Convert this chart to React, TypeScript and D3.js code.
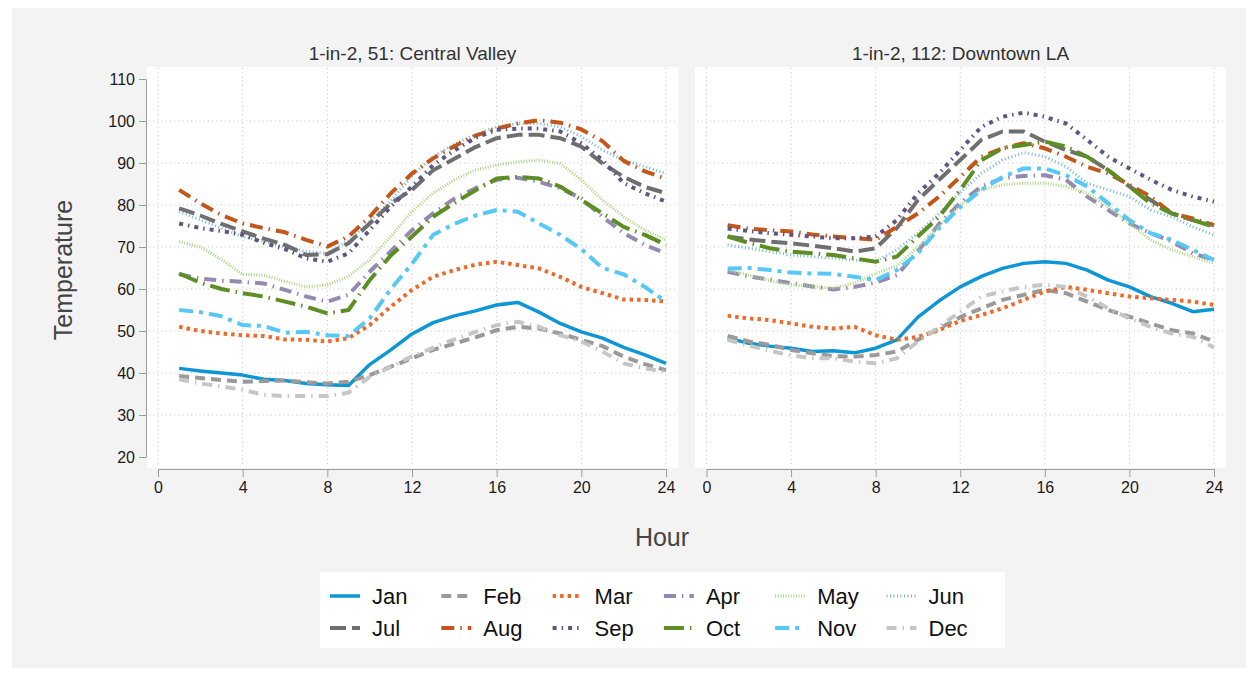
import React, { useEffect, useRef } from 'react'
import * as d3 from 'd3'

const HOURS = [1, 2, 3, 4, 5, 6, 7, 8, 9, 10, 11, 12, 13, 14, 15, 16, 17, 18, 19, 20, 21, 22, 23, 24]
const MONTHS = ['Jan', 'Feb', 'Mar', 'Apr', 'May', 'Jun', 'Jul', 'Aug', 'Sep', 'Oct', 'Nov', 'Dec']
const X_TICKS = [0, 4, 8, 12, 16, 20, 24]
const Y_TICKS = [20, 30, 40, 50, 60, 70, 80, 90, 100, 110]
const PANEL_TITLES = ['1-in-2, 51: Central Valley', '1-in-2, 112: Downtown LA']

// Central Valley, hourly temperature by month
const CV_JAN = [41.1, 40.5, 40.0, 39.5, 38.5, 38.2, 37.5, 37.2, 37.0, 42.0, 45.5, 49.3, 52.0, 53.6, 54.8, 56.2, 56.8, 54.5, 51.8, 49.8, 48.3, 46.1, 44.3, 42.3]
const CV_FEB = [39.3, 38.8, 38.3, 37.9, 38.1, 38.2, 37.8, 37.5, 37.9, 39.5, 41.5, 43.5, 45.5, 47.0, 48.5, 50.2, 51.0, 50.6, 49.4, 47.9, 46.4, 43.9, 42.1, 40.7]
const CV_MAR = [51.0, 50.0, 49.4, 49.0, 48.8, 48.0, 47.9, 47.5, 48.3, 51.4, 55.8, 59.8, 62.9, 64.5, 65.8, 66.5, 65.7, 64.9, 62.9, 60.5, 59.0, 57.5, 57.4, 57.0]
const CV_APR = [63.5, 62.5, 62.0, 61.7, 61.3, 59.8, 58.2, 57.0, 58.6, 64.1, 69.0, 74.0, 78.0, 81.5, 84.0, 86.0, 86.5, 85.5, 84.0, 81.6, 77.2, 73.3, 70.5, 68.5]
const CV_MAY = [71.3, 70.0, 67.0, 63.5, 63.3, 61.8, 60.5, 61.0, 63.0, 67.0, 72.5, 78.5, 82.8, 86.0, 88.3, 89.5, 90.3, 90.7, 89.9, 86.0, 81.2, 77.2, 74.0, 71.7]
const CV_JUN = [78.4, 76.5, 74.5, 72.5, 71.3, 70.0, 68.9, 68.5, 71.5, 76.0, 81.0, 87.0, 91.5, 94.5, 96.8, 98.6, 99.4, 99.4, 98.6, 96.3, 93.1, 90.7, 89.1, 87.5]
const CV_JUL = [79.2, 77.5, 75.5, 73.7, 72.0, 70.5, 68.1, 68.3, 70.9, 75.6, 80.4, 83.6, 88.3, 91.0, 93.8, 95.9, 96.7, 96.7, 95.9, 93.9, 89.9, 86.7, 84.3, 82.8]
const CV_AUG = [83.6, 80.4, 77.6, 75.6, 74.5, 73.5, 71.7, 70.1, 72.5, 77.2, 82.8, 87.5, 91.1, 94.0, 96.5, 98.2, 99.4, 100.2, 99.6, 98.0, 95.2, 90.5, 88.0, 86.3]
const CV_SEP = [75.6, 74.5, 73.8, 72.9, 71.0, 69.5, 67.3, 66.5, 68.5, 74.0, 79.6, 84.4, 89.5, 93.0, 96.0, 97.9, 98.2, 98.2, 97.5, 94.7, 90.7, 85.2, 82.8, 80.8]
const CV_OCT = [63.7, 61.5, 60.0, 59.0, 58.2, 57.0, 55.8, 54.2, 55.0, 62.1, 68.0, 72.5, 77.2, 80.5, 83.5, 86.3, 86.7, 86.3, 84.4, 81.2, 78.0, 74.8, 72.9, 70.5]
const CV_NOV = [55.0, 54.5, 53.5, 51.4, 51.2, 49.6, 49.8, 49.0, 48.8, 53.0, 60.0, 66.0, 72.9, 75.5, 77.5, 78.8, 78.4, 75.6, 72.9, 69.5, 65.0, 63.5, 60.5, 57.0]
const CV_DEC = [38.5, 37.5, 36.8, 36.0, 34.8, 34.5, 34.5, 34.5, 35.3, 39.1, 41.5, 44.0, 46.0, 48.0, 49.8, 51.4, 52.2, 51.0, 49.0, 47.5, 45.1, 42.3, 41.1, 40.3]

// Downtown LA, hourly temperature by month
const LA_JAN = [48.3, 47.1, 46.4, 45.9, 45.1, 45.3, 44.8, 45.9, 47.9, 53.3, 57.2, 60.5, 63.0, 64.9, 66.1, 66.5, 66.1, 64.5, 62.1, 60.5, 58.2, 56.6, 54.6, 55.2]
const LA_FEB = [48.8, 47.5, 46.7, 45.5, 44.7, 44.0, 43.9, 44.3, 45.1, 47.9, 50.6, 53.3, 55.4, 57.4, 58.6, 59.8, 59.0, 57.0, 55.0, 53.4, 51.8, 50.2, 49.4, 47.5]
const LA_MAR = [53.6, 53.0, 52.6, 51.8, 51.0, 50.6, 51.0, 49.0, 47.9, 48.6, 50.2, 52.4, 53.8, 55.4, 57.4, 59.4, 60.5, 59.8, 59.0, 58.2, 57.8, 57.4, 57.0, 56.2]
const LA_APR = [64.1, 63.0, 62.2, 61.4, 60.6, 59.9, 60.5, 61.5, 63.3, 69.0, 75.5, 80.5, 84.4, 86.4, 86.9, 87.1, 86.0, 82.0, 78.8, 75.6, 73.3, 71.3, 68.5, 66.9]
const LA_MAY = [64.5, 63.3, 62.0, 61.0, 60.6, 60.2, 61.4, 63.7, 65.5, 70.0, 75.0, 80.0, 83.6, 84.8, 85.2, 85.2, 84.4, 82.8, 79.6, 75.6, 71.7, 69.3, 67.7, 66.1]
const LA_JUN = [70.5, 69.7, 68.9, 68.1, 67.7, 67.3, 66.9, 66.5, 69.3, 73.3, 78.0, 83.0, 87.5, 90.7, 92.5, 91.5, 89.1, 85.2, 83.6, 82.0, 78.8, 77.2, 74.8, 72.9]
const LA_JUL = [72.5, 71.8, 71.3, 70.9, 70.3, 69.7, 68.9, 69.7, 74.5, 81.2, 86.0, 90.7, 95.5, 97.5, 97.5, 95.1, 93.1, 91.5, 88.3, 84.4, 81.2, 78.0, 76.4, 75.2]
const LA_AUG = [75.2, 74.4, 74.0, 73.7, 73.0, 72.5, 72.1, 71.7, 74.8, 78.0, 82.0, 86.7, 91.5, 93.5, 94.7, 93.5, 91.5, 89.1, 87.5, 84.8, 82.0, 78.0, 76.8, 75.2]
const LA_SEP = [74.4, 73.8, 73.3, 72.9, 72.5, 72.1, 72.1, 72.5, 76.4, 82.8, 87.5, 93.1, 98.6, 101.0, 102.0, 101.0, 99.4, 95.5, 91.5, 88.7, 86.0, 83.6, 82.0, 80.8]
const LA_OCT = [72.5, 71.0, 69.7, 68.9, 68.5, 68.1, 67.3, 66.5, 67.7, 72.5, 77.2, 83.6, 90.7, 93.5, 94.3, 95.1, 93.9, 91.5, 88.3, 84.4, 80.4, 78.0, 76.4, 74.8]
const LA_NOV = [64.9, 65.0, 64.5, 63.9, 63.7, 63.6, 62.9, 62.1, 64.5, 68.5, 74.5, 79.5, 83.6, 86.7, 88.7, 88.7, 87.1, 84.4, 80.4, 76.4, 73.3, 71.7, 69.3, 66.9]
const LA_DEC = [47.9, 46.5, 45.3, 44.2, 43.5, 43.5, 42.7, 42.3, 43.5, 47.5, 51.0, 54.6, 58.2, 59.4, 60.5, 61.0, 60.5, 58.2, 55.4, 53.0, 51.0, 49.4, 48.6, 46.1]

const CV_SERIES = [CV_JAN, CV_FEB, CV_MAR, CV_APR, CV_MAY, CV_JUN, CV_JUL, CV_AUG, CV_SEP, CV_OCT, CV_NOV, CV_DEC]
const LA_SERIES = [LA_JAN, LA_FEB, LA_MAR, LA_APR, LA_MAY, LA_JUN, LA_JUL, LA_AUG, LA_SEP, LA_OCT, LA_NOV, LA_DEC]

const STYLES = [
  { color: '#0c96d6', width: 3.5, dash: null },
  { color: '#9a9a9a', width: 4, dash: '10,6' },
  { color: '#ef6a2a', width: 4, dash: '3.5,4' },
  { color: '#9589b1', width: 4, dash: '12,6,1.5,6' },
  { color: '#a9d67e', width: 3, dash: '1,1.6' },
  { color: '#73b5d6', width: 3, dash: '1,2.5' },
  { color: '#6f6f6f', width: 4, dash: '16,6' },
  { color: '#c4561a', width: 4, dash: '13,6,1.5,6' },
  { color: '#5e5583', width: 4, dash: '4,5,1.5,5' },
  { color: '#5c8e24', width: 4, dash: '20,6,1.5,6' },
  { color: '#55c8f6', width: 4, dash: '14,6,4,6' },
  { color: '#c6c6c6', width: 4, dash: '10,6,1.5,6' },
]

const FONT = '"Liberation Sans", Arial, sans-serif'

export default function App() {
  const svgRef = useRef<SVGSVGElement>(null)

  useEffect(() => {
    if (!svgRef.current) return
    const svg = d3.select(svgRef.current)
    svg.selectAll('*').remove()

    const width = 1254
    const height = 673

    svg.append('rect').attr('width', width).attr('height', height).attr('fill', '#ffffff')
    svg.append('rect').attr('x', 12).attr('y', 8).attr('width', 1234).attr('height', 660).attr('fill', '#f3f3f3')

    const yScale = d3.scaleLinear().domain([20, 110]).range([457, 79])

    const panels = [
      { data: CV_SERIES, left: 147, right: 678, x0: 158, x1: 666, title: PANEL_TITLES[0], yAxis: true },
      { data: LA_SERIES, left: 695, right: 1226, x0: 706.5, x1: 1214, title: PANEL_TITLES[1], yAxis: false },
    ]

    panels.forEach((p) => {
      const xScale = d3.scaleLinear().domain([0, 24]).range([p.x0, p.x1])

      svg.append('rect')
        .attr('x', p.left)
        .attr('y', 67)
        .attr('width', p.right - p.left)
        .attr('height', 401)
        .attr('fill', '#ffffff')

      svg.append('text')
        .attr('x', (p.left + p.right) / 2)
        .attr('y', 60)
        .attr('text-anchor', 'middle')
        .attr('font-family', FONT)
        .attr('font-size', '19px')
        .attr('fill', '#333')
        .text(p.title)

      const grid = svg.append('g')
      grid.selectAll('.vgrid')
        .data(X_TICKS)
        .join('line')
        .attr('x1', (d) => xScale(d))
        .attr('x2', (d) => xScale(d))
        .attr('y1', 68)
        .attr('y2', 467)
        .attr('stroke', '#c8c8c8')
        .attr('stroke-dasharray', '1.2,3')
      grid.selectAll('.hgrid')
        .data(Y_TICKS.filter((t) => t > 20 && t < 110))
        .join('line')
        .attr('x1', p.left + 2)
        .attr('x2', p.right - 2)
        .attr('y1', (d) => yScale(d))
        .attr('y2', (d) => yScale(d))
        .attr('stroke', '#c8c8c8')
        .attr('stroke-dasharray', '1.2,3')

      const xAxis = svg.append('g')
        .attr('transform', 'translate(0,469)')
        .call(d3.axisBottom(xScale).tickValues(X_TICKS).tickSize(8).tickPadding(5).tickSizeOuter(0))
      xAxis.selectAll('text')
        .attr('font-family', FONT)
        .style('font-size', '16px')
        .attr('fill', '#1a1a1a')
      xAxis.selectAll('.domain, .tick line').attr('stroke', '#9c9c9c')

      if (p.yAxis) {
        const yAxis = svg.append('g')
          .attr('transform', `translate(${p.left - 1},0)`)
          .call(d3.axisLeft(yScale).tickValues(Y_TICKS).tickSize(7).tickPadding(4).tickSizeOuter(0))
        yAxis.selectAll('text')
          .attr('font-family', FONT)
          .style('font-size', '16px')
          .attr('fill', '#1a1a1a')
        yAxis.selectAll('.domain, .tick line').attr('stroke', '#9c9c9c')
      }

      const line = d3.line<number>()
        .x((d, i) => xScale(HOURS[i]))
        .y((d) => yScale(d))

      p.data.forEach((series, i) => {
        const s = STYLES[i]
        svg.append('path')
          .datum(series)
          .attr('fill', 'none')
          .attr('stroke', s.color)
          .attr('stroke-width', s.width)
          .attr('stroke-dasharray', s.dash)
          .attr('stroke-linejoin', 'round')
          .attr('d', line)
      })
    })

    svg.append('text')
      .attr('transform', 'translate(72,270) rotate(-90)')
      .attr('text-anchor', 'middle')
      .attr('font-family', FONT)
      .attr('font-size', '25px')
      .attr('fill', '#444')
      .text('Temperature')

    svg.append('text')
      .attr('x', 662)
      .attr('y', 546)
      .attr('text-anchor', 'middle')
      .attr('font-family', FONT)
      .attr('font-size', '25px')
      .attr('fill', '#444')
      .text('Hour')

    // legend
    const legend = svg.append('g')
    legend.append('rect')
      .attr('x', 320)
      .attr('y', 572)
      .attr('width', 685)
      .attr('height', 76)
      .attr('fill', '#ffffff')

    legend.selectAll('g')
      .data(MONTHS)
      .join('g')
      .attr('transform', (d, i) => `translate(${330 + (i % 6) * 111.3}, ${596 + Math.floor(i / 6) * 32})`)
      .each(function (d, i) {
        const g = d3.select(this)
        const s = STYLES[i]
        g.append('line')
          .attr('x1', 0)
          .attr('x2', 30)
          .attr('y1', 0)
          .attr('y2', 0)
          .attr('stroke', s.color)
          .attr('stroke-width', s.width)
          .attr('stroke-dasharray', s.dash)
        g.append('text')
          .attr('x', 42)
          .attr('y', 0)
          .attr('dy', '0.36em')
          .attr('font-family', FONT)
          .attr('font-size', '22px')
          .attr('fill', '#111')
          .text(d)
      })
  }, [])

  return (
    <svg
      ref={svgRef}
      width={1254}
      height={673}
      style={{ position: 'absolute', left: 0, top: 0, display: 'block' }}
    />
  )
}
